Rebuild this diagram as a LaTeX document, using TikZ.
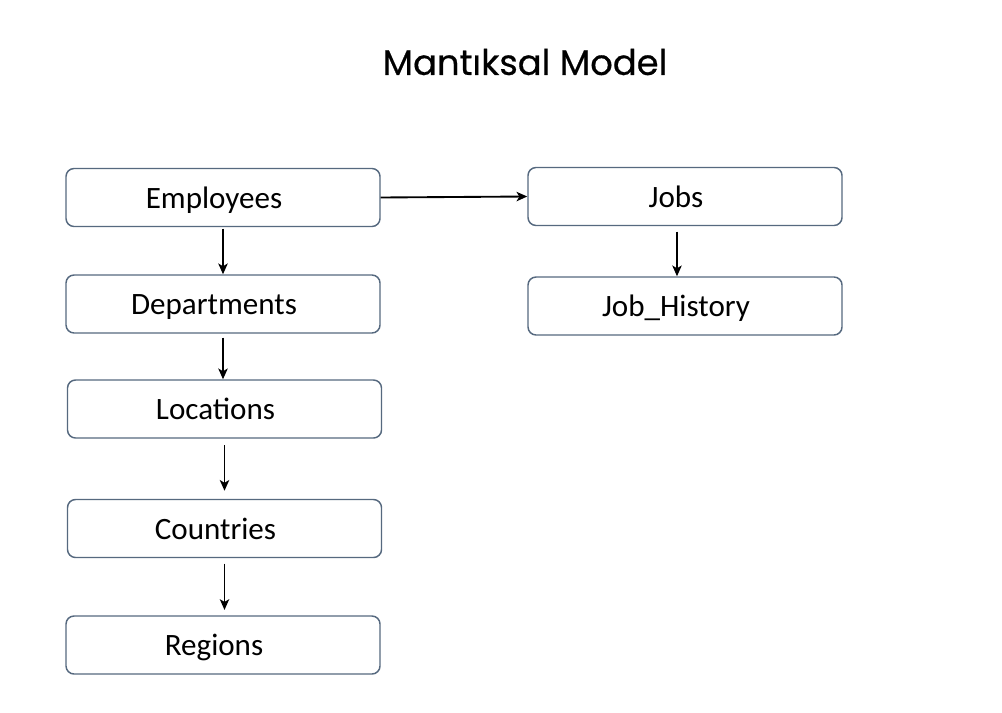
\documentclass[tikz,border=0pt]{standalone}
\usepackage{fontspec}
\setmainfont{Carlito}
\newfontfamily\titlefont[FakeBold=0.5]{Poppins}
\usetikzlibrary{arrows.meta,positioning}

\definecolor{boxline}{HTML}{56697F}

\begin{document}
\begin{tikzpicture}
	[x=0.75pt,y=-0.75pt,
	tbl/.style={draw=boxline, line width=1.1pt, rounded corners=6pt, fill=white,
		text width=222pt, inner xsep=6.75pt, minimum height=43.5pt, align=center,
		text height=19pt, text depth=3.25pt,
		font=\fontsize{23.3}{26}\selectfont, execute at begin node={\hspace*{-13.5pt}}},
	arr/.style={-{Stealth[length=8pt,width=7pt,inset=2pt]}, line width=1.4pt, shorten <=1pt}]
	\useasboundingbox (0,0) rectangle (1002,713);
	
	\node[font=\titlefont\fontsize{26.5}{30}\selectfont] (title) at (525,62) {Mantıksal Model};
	
	\node[tbl] (emp) at (223,197.5) {Employees};
	\node[tbl] (dep) at (223,304) {Departments};
	\node[tbl] (loc) at (224.5,409) {Locations};
	\node[tbl] (cou) at (224.5,528.5) {Countries};
	\node[tbl] (reg) at (223,645) {Regions};
	\node[tbl] (jobs) at (685,196.5) {Jobs};
	\node[tbl] (jh) at (685,306) {Job\_History};
	
	\draw[arr] (emp.south) -- (emp.south |- dep.north);
	\draw[arr, shorten <=3pt] (dep.south) -- (dep.south |- loc.north);
	\draw[arr, shorten <=5pt, shorten >=6pt] (loc.south) -- (loc.south |- cou.north);
	\draw[arr, shorten <=4pt, shorten >=4pt] (cou.south) -- (cou.south |- reg.north);
	\draw[arr, shorten <=0pt] (emp.east) -- (jobs.west);
	\draw[arr, shorten <=4pt] ([xshift=-6pt]jobs.south) -- ([xshift=-6pt]jobs.south |- jh.north);
\end{tikzpicture}
\end{document}
